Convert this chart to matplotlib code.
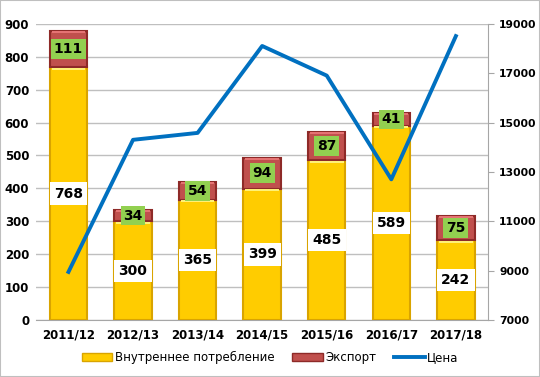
import matplotlib.pyplot as plt
import numpy as np
from matplotlib.lines import Line2D
from matplotlib.patches import Patch

seasons = ['2011/12', '2012/13', '2013/14', '2014/15', '2015/16', '2016/17', '2017/18']
domestic = [768, 300, 365, 399, 485, 589, 242]
export = [111, 34, 54, 94, 87, 41, 75]
price = [8950, 14300, 14580, 18100, 16900, 12700, 18500]

fig = plt.figure(figsize=(5.4, 3.77), dpi=100)
ax = fig.add_axes([0.067, 0.151, 0.837, 0.786])
ax2 = ax.twinx()

x = np.arange(len(seasons))
w = 0.58

ax.bar(x, domestic, w, color='#FFCC00', edgecolor='#D9A400', linewidth=1.5, zorder=3)
ax.bar(x, export, w, bottom=domestic, color='#C0504D', edgecolor='#8E2A28', linewidth=1.5, zorder=3)
# light bevel on top of each segment
ax.bar(x, [6] * len(x), w * 0.9, bottom=np.array(domestic) - 7, color='#FFF176', linewidth=0, zorder=4)
ax.bar(x, [6] * len(x), w * 0.9, bottom=np.array(domestic) + np.array(export) - 7,
       color='#E57373', linewidth=0, zorder=4)

for i in range(len(x)):
    ax.text(x[i], domestic[i] / 2, str(domestic[i]), ha='center', va='center',
            fontsize=10, fontweight='bold', color='black', zorder=6,
            bbox=dict(boxstyle='square,pad=0.3', fc='white', ec='none'))
    ax.text(x[i], domestic[i] + export[i] / 2, str(export[i]), ha='center', va='center',
            fontsize=10, fontweight='bold', color='black', zorder=6,
            bbox=dict(boxstyle='square,pad=0.2', fc='#92D050', ec='none'))

ax.set_ylim(0, 900)
ax.set_yticks(range(0, 901, 100))
ax.set_xlim(-0.5, len(x) - 0.5)
ax.set_xticks(x)
ax.set_xticklabels(seasons)
ax.grid(axis='y', color='#BFBFBF', linewidth=1, zorder=0)
ax.set_axisbelow(True)

ax2.set_ylim(7000, 19000)
ax2.set_yticks(range(7000, 19001, 2000))

ax.set_zorder(ax2.get_zorder() + 1)
ax.patch.set_visible(False)
# separate axes so the price line sits above the bars
line_ax = fig.add_axes(ax.get_position(), sharex=ax)
line_ax.plot(x, price, color='#0070C0', linewidth=2.8)
line_ax.set_ylim(7000, 19000)
line_ax.axis('off')
line_ax.set_zorder(ax.get_zorder() + 1)

for a in (ax, ax2):
    for s in ('top', 'left'):
        a.spines[s].set_visible(False)
ax.spines['right'].set_visible(False)
ax2.spines['bottom'].set_visible(False)
ax.spines['bottom'].set_color('#A6A6A6')
ax2.spines['right'].set_color('#A6A6A6')
ax.tick_params(axis='y', length=0, labelsize=8.5, pad=5)
ax.tick_params(axis='x', length=0, labelsize=8.5, pad=6)
ax2.tick_params(axis='y', length=4, color='#A6A6A6', labelsize=7.8, pad=4)
for lbl in ax.get_xticklabels() + ax.get_yticklabels() + ax2.get_yticklabels():
    lbl.set_fontweight('bold')

handles = [Patch(facecolor='#FFCC00', edgecolor='#D9A400'),
           Patch(facecolor='#C0504D', edgecolor='#8E2A28'),
           Line2D([0], [0], color='#0070C0', linewidth=2.8)]
fig.legend(handles, ['Внутреннее потребление', 'Экспорт', 'Цена'], loc='center',
           bbox_to_anchor=(0.5, 0.052), ncol=3, frameon=False, fontsize=8.5,
           handlelength=2.6, handleheight=0.6, columnspacing=1.5, handletextpad=0.2)

fig.patches.append(plt.Rectangle((0, 0), 1, 1, transform=fig.transFigure, fill=False,
                                 edgecolor='#BFBFBF', linewidth=1.5))

fig.savefig('out.png', dpi=100)
